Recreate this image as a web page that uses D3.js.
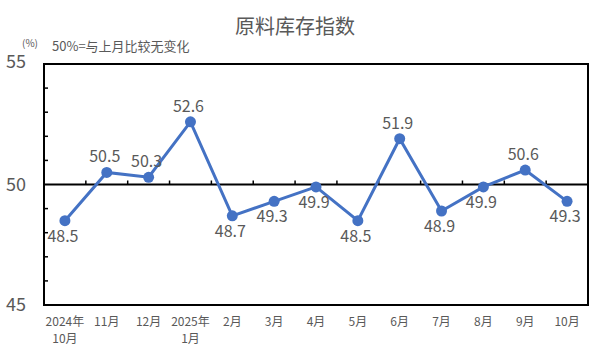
<!DOCTYPE html>
<html>
<head>
<meta charset="utf-8">
<script src="https://cdn.jsdelivr.net/npm/d3@7/dist/d3.min.js"></script>
<style>
  body { margin: 0; background: #fff; }
  text { font-family: "Noto Sans CJK SC", "Liberation Sans", sans-serif; fill: #595959; }
</style>
</head>
<body>
<div id="chart"></div>
<script>
const width = 591;
const height = 354;

// 月份（两行标签用 \n 分隔）
const months = ["2024年\n10月", "11月", "12月", "2025年\n1月", "2月", "3月", "4月", "5月", "6月", "7月", "8月", "9月", "10月"];
const values = [48.5, 50.5, 50.3, 52.6, 48.7, 49.3, 49.9, 48.5, 51.9, 48.9, 49.9, 50.6, 49.3];
const yTicks = [45, 50, 55];

const margin = { top: 64, right: 3, bottom: 49, left: 44 };

const svg = d3.select("#chart")
  .append("svg")
  .attr("width", width)
  .attr("height", height);

const x = d3.scaleBand()
  .domain(months)
  .range([margin.left, width - margin.right]);

const y = d3.scaleLinear()
  .domain([45, 55])
  .range([height - margin.bottom, margin.top]);

// 标题
svg.append("text")
  .attr("x", 295)
  .attr("y", 34)
  .attr("text-anchor", "middle")
  .attr("font-size", 20)
  .text("原料库存指数");

svg.append("text")
  .attr("x", 22)
  .attr("y", 47)
  .attr("font-size", 10)
  .text("(%)");

svg.append("text")
  .attr("x", 52)
  .attr("y", 51)
  .attr("font-size", 13)
  .text("50%=与上月比较无变化");

// 边框
svg.append("rect")
  .attr("x", margin.left)
  .attr("y", margin.top)
  .attr("width", width - margin.left - margin.right)
  .attr("height", height - margin.top - margin.bottom)
  .attr("fill", "none")
  .attr("stroke", "#000")
  .attr("stroke-width", 2);

// y 轴次刻度（向内）
svg.append("g")
  .selectAll("line")
  .data(d3.range(46, 55).filter(d => d !== 50))
  .enter()
  .append("line")
  .attr("x1", margin.left)
  .attr("x2", margin.left + 4)
  .attr("y1", d => y(d))
  .attr("y2", d => y(d))
  .attr("stroke", "#000")
  .attr("stroke-width", 1.5);

// y 轴标签
svg.append("g")
  .selectAll("text")
  .data(yTicks)
  .enter()
  .append("text")
  .attr("x", 26)
  .attr("y", d => y(d) + (d === 55 ? -2 : 0))
  .attr("dy", "0.35em")
  .attr("text-anchor", "end")
  .attr("font-size", 18)
  .text(d => d);

// 50 基准线
svg.append("line")
  .attr("x1", margin.left)
  .attr("x2", width - margin.right)
  .attr("y1", y(50))
  .attr("y2", y(50))
  .attr("stroke", "#000")
  .attr("stroke-width", 2);

// 基准线上的分类刻度
svg.append("g")
  .selectAll("line")
  .data(months.slice(1))
  .enter()
  .append("line")
  .attr("x1", d => x(d))
  .attr("x2", d => x(d))
  .attr("y1", y(50))
  .attr("y2", y(50) - 4)
  .attr("stroke", "#000")
  .attr("stroke-width", 1.5);

// x 轴标签
const xLabels = svg.append("g")
  .selectAll("text")
  .data(months)
  .enter()
  .append("text")
  .attr("text-anchor", "middle")
  .attr("font-size", 12)
  .attr("x", d => x(d) + x.bandwidth() / 2)
  .attr("y", 326);

xLabels.selectAll("tspan")
  .data(d => d.split("\n"))
  .enter()
  .append("tspan")
  .attr("x", function () { return d3.select(this.parentNode).attr("x"); })
  .attr("dy", (d, i) => i === 0 ? 0 : 17)
  .text(d => d);

// 折线
const cx = (d, i) => x(months[i]) + x.bandwidth() / 2;

const line = d3.line()
  .x(cx)
  .y(d => y(d));

svg.append("path")
  .datum(values)
  .attr("d", line)
  .attr("fill", "none")
  .attr("stroke", "#4472C4")
  .attr("stroke-width", 3);

svg.append("g")
  .selectAll("circle")
  .data(values)
  .enter()
  .append("circle")
  .attr("cx", cx)
  .attr("cy", d => y(d))
  .attr("r", 5.5)
  .attr("fill", "#4472C4");

// 数据标签：高于 50 放上方，否则放下方
svg.append("g")
  .selectAll("text")
  .data(values)
  .enter()
  .append("text")
  .attr("x", (d, i) => cx(d, i) - 2)
  .attr("y", d => d > 50 ? y(d) - 10 : y(d) + 21)
  .attr("text-anchor", "middle")
  .attr("font-size", 16)
  .text(d => d.toFixed(1));
</script>
</body>
</html>
